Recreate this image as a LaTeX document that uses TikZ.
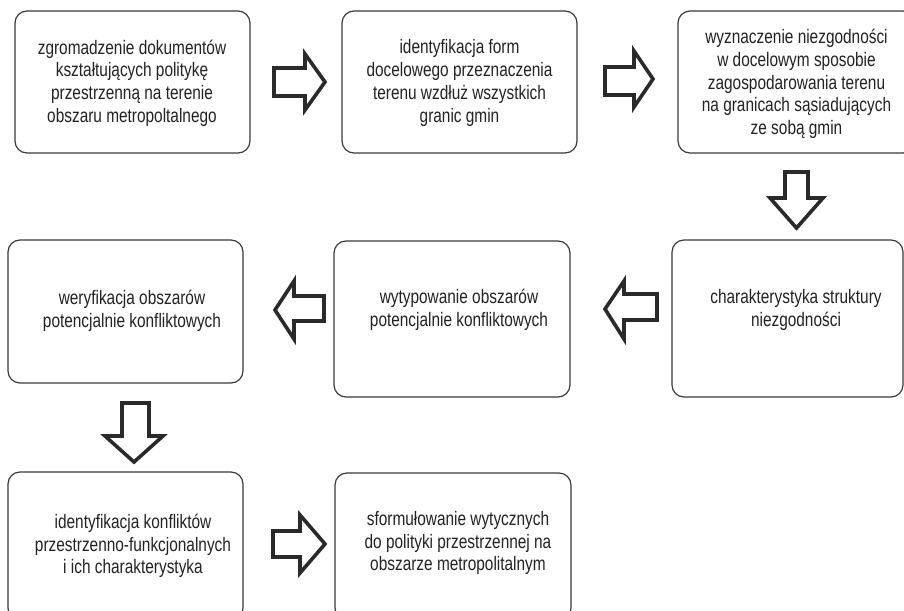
\documentclass[tikz,border=0pt]{standalone}
\usepackage{fontspec}
\setmainfont{Liberation Sans}[FakeStretch=0.79]
\definecolor{boxc}{HTML}{3A3A3A}
\definecolor{txtc}{HTML}{222222}
\definecolor{arrc}{HTML}{2A2A2A}
\begin{document}
\begin{tikzpicture}[x=1pt,y=-1pt,
  box/.style={draw=boxc, line width=1.2pt, rounded corners=12pt, inner sep=0pt},
  txt/.style={align=center, font=\fontsize{19.5}{22.7}\selectfont, text=txtc, inner sep=0pt},
  blockarrow/.style={draw=arrc, line width=3.6pt, fill=white, miter limit=10}]
\useasboundingbox (0,0) rectangle (904,610);
\clip (0,0) rectangle (904,610);
\fill[white] (0,0) rectangle (904,610);
% boxes
\node[box, minimum width=235pt, minimum height=142pt] (b1) at (132.5,82) {};
\node[box, minimum width=235pt, minimum height=142pt] (b2) at (459.5,82) {};
\node[box, minimum width=237pt, minimum height=142pt] (b3) at (796.5,82) {};
\node[box, minimum width=235pt, minimum height=143pt] (b4) at (125.5,311.5) {};
\node[box, minimum width=236pt, minimum height=156pt] (b5) at (452,319) {};
\node[box, minimum width=231pt, minimum height=157pt] (b6) at (787.5,318.5) {};
\node[box, minimum width=235pt, minimum height=148pt] (b7) at (125.5,546) {};
\node[box, minimum width=236pt, minimum height=147pt] (b8) at (453,546.5) {};
% texts
\node[txt] (t1) at (132,83) {zgromadzenie dokumentów\\kształtujących politykę\\przestrzenną na terenie\\obszaru metropoltalnego};
\node[txt] (t2) at (459.5,83) {identyfikacja form\\docelowego przeznaczenia\\terenu wzdłuż wszystkich\\granic gmin};
\node[txt] (t3) at (796.5,84) {wyznaczenie niezgodności\\w docelowym sposobie\\zagospodarowania terenu\\na granicach sąsiadujących\\ze sobą gmin};
\node[txt] (t4) at (132,311) {weryfikacja obszarów\\potencjalnie konfliktowych};
\node[txt] (t5) at (459,310) {wytypowanie obszarów\\potencjalnie konfliktowych};
\node[txt] (t6) at (796,310) {charakterystyka struktury\\niezgodności};
\node[txt] (t7) at (133,546) {identyfikacja konfliktów\\przestrzenno-funkcjonalnych\\i ich charakterystyka};
\node[txt] (t8) at (458,543) {sformułowanie wytycznych\\do polityki przestrzennej na\\obszarze metropolitalnym};
% block arrows
\draw[blockarrow] (274,68) -- (305,68) -- (305,54) -- (325,82) -- (305,110) -- (305,96) -- (274,96) -- cycle;
\draw[blockarrow] (605,67) -- (634,67) -- (634,51) -- (653,79) -- (634,107) -- (634,95) -- (605,95) -- cycle;
\draw[blockarrow] (785,172) -- (808,172) -- (808,198) -- (823,198) -- (796.5,228) -- (770,198) -- (785,198) -- cycle;
\draw[blockarrow] (657,294) -- (624,294) -- (624,281) -- (605,309) -- (624,339) -- (624,320) -- (657,320) -- cycle;
\draw[blockarrow] (324,296) -- (294,296) -- (294,281) -- (275,310) -- (294,339) -- (294,321) -- (324,321) -- cycle;
\draw[blockarrow] (122,403) -- (149,403) -- (149,436) -- (163,436) -- (134,462) -- (105,436) -- (122,436) -- cycle;
\draw[blockarrow] (273,531) -- (300,531) -- (300,515) -- (325,544) -- (300,573) -- (300,557) -- (273,557) -- cycle;
\end{tikzpicture}
\end{document}
